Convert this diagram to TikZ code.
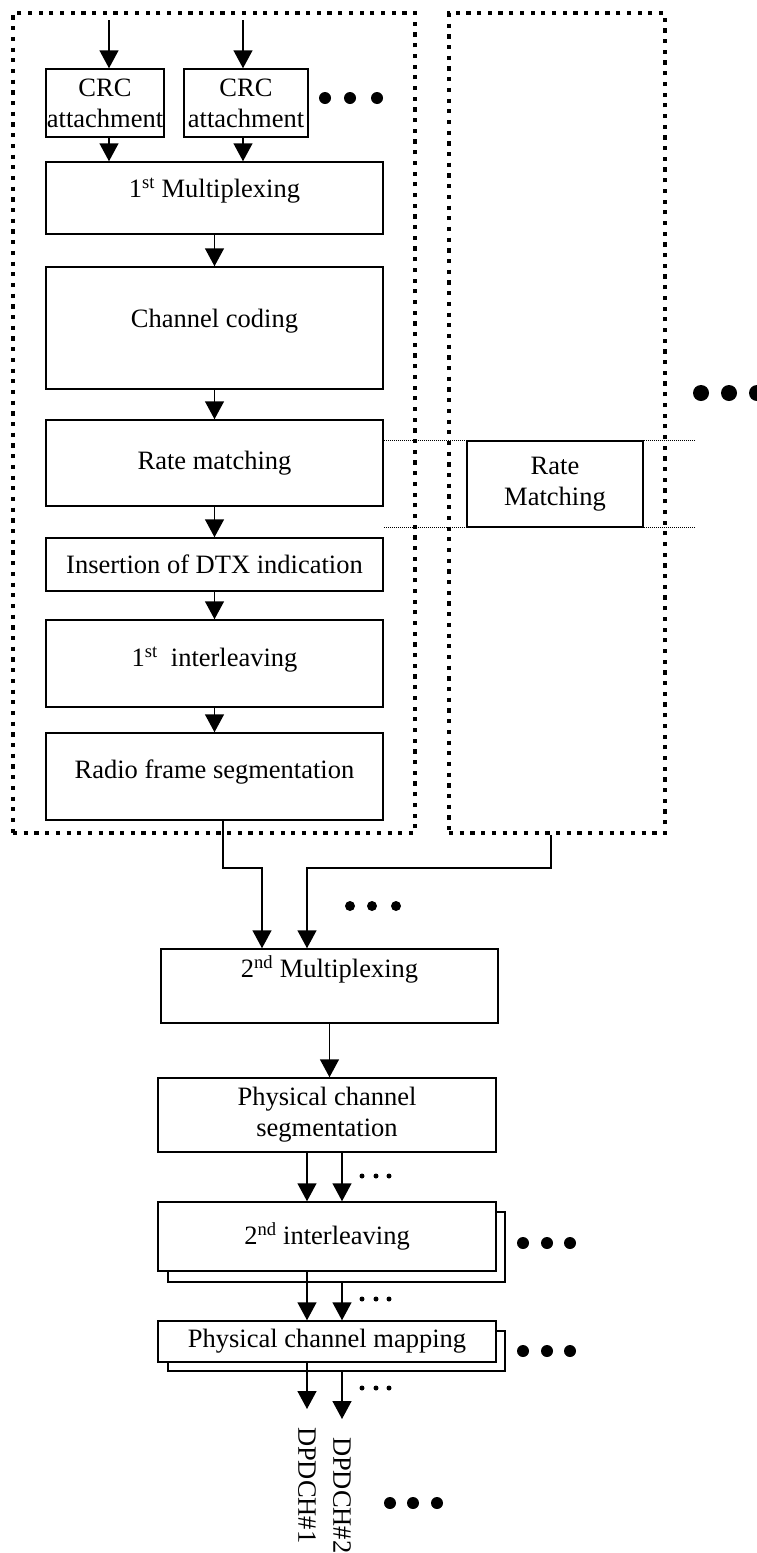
\documentclass[tikz,border=0pt]{standalone}
\usepackage{fontspec}
\setmainfont{Liberation Serif}
\usetikzlibrary{arrows.meta}

\begin{document}
\begin{tikzpicture}[x=1pt, y=-1pt,
    font=\fontsize{26.5}{31}\selectfont,
    block/.style={draw, line width=1.5pt, fill=white, inner sep=1pt, align=center},
    frame/.style={draw, line width=4.2pt, dash pattern=on 4.2pt off 6.5pt},
    guide/.style={line width=1pt, dash pattern=on 1pt off 1pt},
    arr/.style={line width=1.5pt, -{Triangle[width=19pt, length=18pt]}},
    chlabel/.style={rotate=-90, anchor=west, inner xsep=18pt, inner ysep=0pt, outer sep=0pt}]
  \useasboundingbox (0,0) rectangle (757,1553);

  % transport channel chains
  \node[frame, minimum width=402pt, minimum height=820pt] (trchA) at (214,423) {};
  \node[frame, minimum width=216pt, minimum height=820pt] (trchB) at (557,423) {};

  \node[block, minimum width=118pt, minimum height=68pt] (crcA) at (105,103) {CRC\\attachment};
  \node[block, minimum width=124pt, minimum height=68pt] (crcB) at (246,103) {CRC\\attachment};
  \node[block, minimum width=337pt, minimum height=72pt, text depth=20pt] (mux1) at (214.5,198) {1\textsuperscript{st} Multiplexing};
  \node[block, minimum width=337pt, minimum height=122pt, text depth=20pt] (cc) at (214.5,328) {Channel coding};
  \node[block, minimum width=337pt, minimum height=86pt] (rm) at (214.5,463) {Rate matching};
  \node[block, minimum width=337pt, minimum height=53pt] (dtx) at (214.5,564.5) {Insertion of DTX indication};
  \node[block, minimum width=337pt, minimum height=87pt, text depth=14pt] (il1) at (214.5,663.5) {1\textsuperscript{st}\ \ interleaving};
  \node[block, minimum width=337pt, minimum height=87pt, text depth=14pt] (rfs) at (214.5,776.5) {Radio frame segmentation};

  \node[block, minimum width=176pt, minimum height=86pt] (rmR) at (555,484) {Rate\\Matching};
  \coordinate (gR) at (695,0);
  \draw[guide] (rm.east |- rmR.north) -- (rmR.north -| gR);
  \draw[guide] (rm.east |- rmR.south) -- (rmR.south -| gR);

  \coordinate (a1) at (109,20);
  \coordinate (a2) at (243,20);
  \draw[arr] (a1) -- (a1 |- crcA.north);
  \draw[arr] (a2) -- (a2 |- crcB.north);
  \draw[arr] (crcA.south -| a1) -- (a1 |- mux1.north);
  \draw[arr] (crcB.south -| a2) -- (a2 |- mux1.north);
  \draw[arr] (mux1.south) -- (cc.north);
  \draw[arr] (cc.south) -- (rm.north);
  \draw[arr] (rm.south) -- (dtx.north);
  \draw[arr] (dtx.south) -- (il1.north);
  \draw[arr] (il1.south) -- (rfs.north);

  % physical channel part
  \node[block, minimum width=337pt, minimum height=74pt, text depth=38pt] (mux2) at (329.5,986) {2\textsuperscript{nd} Multiplexing};
  \node[block, minimum width=338pt, minimum height=74pt] (pcs) at (327,1115) {Physical channel\\segmentation};
  \node[block, minimum width=337pt, minimum height=70pt] (il2b) at (336.5,1247) {};
  \node[block, minimum width=338pt, minimum height=69pt] (il2) at (327,1236.5) {2\textsuperscript{nd} interleaving};
  \node[block, minimum width=337pt, minimum height=40pt] (pcmb) at (336.5,1351) {};
  \node[block, minimum width=338pt, minimum height=41pt] (pcm) at (327,1341.5) {Physical channel mapping};
  \node[chlabel] (ch1) at (307,1409) {DPDCH\#1};
  \node[chlabel] (ch2) at (342,1419) {DPDCH\#2};

  \coordinate (j1) at (262,868);
  \coordinate (j2) at (307,868);
  \draw[arr] ([xshift=8.5pt]rfs.south) |- (j1) -- (j1 |- mux2.north);
  \draw[arr] ([xshift=-6pt]trchB.south) |- (j2) -- (j2 |- mux2.north);
  \draw[arr] (mux2.south) -- (mux2.south |- pcs.north);
  \draw[arr] (pcs.south -| ch1) -- (ch1 |- il2.north);
  \draw[arr] (pcs.south -| ch2) -- (ch2 |- il2.north);
  \draw[arr] (il2.south -| ch1) -- (ch1 |- pcm.north);
  \draw[arr] (il2b.south -| ch2) -- (ch2 |- pcm.north);
  \draw[arr] (pcm.south -| ch1) -- (ch1.west);
  \draw[arr] (pcmb.south -| ch2) -- (ch2.west);

  % continuation dots
  \foreach \x in {325,350,377} \fill (\x,98) circle (6pt);
  \foreach \x in {701,729,757} \fill (\x,393) circle (8pt);
  \foreach \x in {350,372,396} \fill (\x,906) circle (5pt);
  \foreach \y in {1176,1299,1388}
    \foreach \x in {362,376,389} \fill (\x,\y) circle (2.5pt);
  \foreach \y in {1243,1351}
    \foreach \x in {523,547,570} \fill (\x,\y) circle (6pt);
  \foreach \x in {390,413,437} \fill (\x,1503) circle (6pt);
\end{tikzpicture}
\end{document}
